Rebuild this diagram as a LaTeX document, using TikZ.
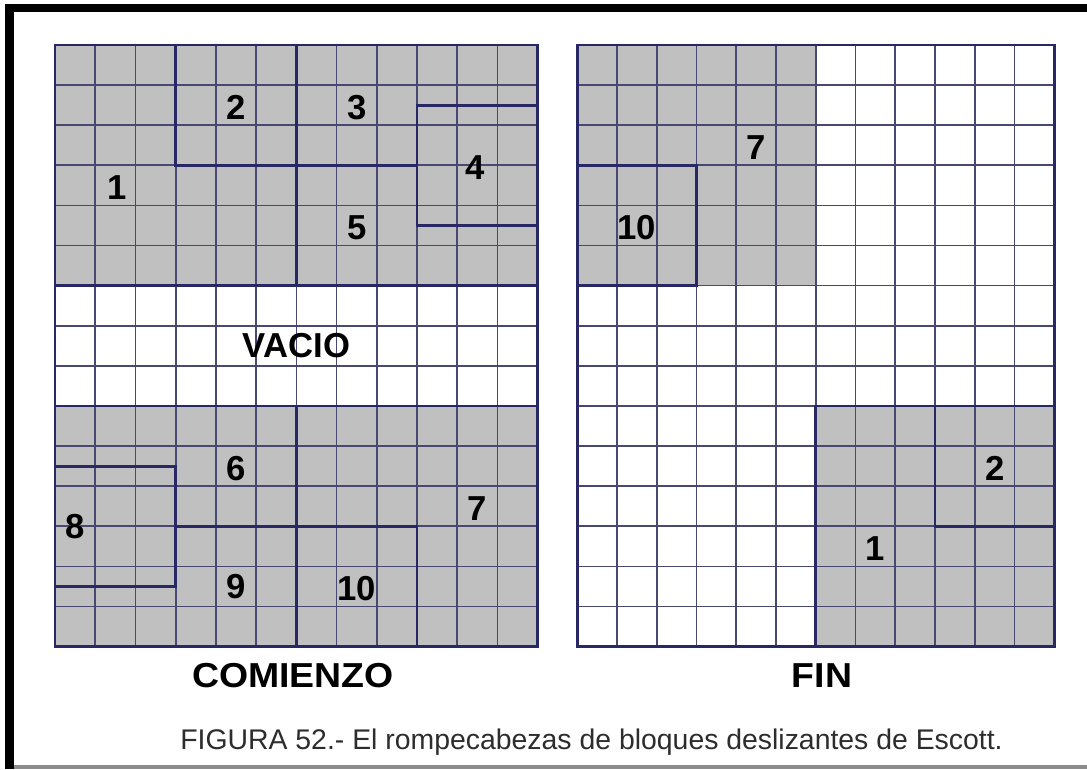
\documentclass[tikz,border=0pt]{standalone}
\usepackage{fontspec}
\setmainfont{Liberation Sans}
\newfontfamily\widefont[FakeStretch=1.08]{Liberation Sans}
\usetikzlibrary{positioning}

\definecolor{gridline}{RGB}{72,72,114}
\definecolor{piece}{RGB}{40,40,100}
\definecolor{block}{RGB}{192,192,192}
\definecolor{captiontext}{RGB}{45,45,45}

\tikzset{
  thin line/.style={draw=gridline, line width=1.25pt},
  piece line/.style={draw=piece, line width=2.1pt, line join=miter},
  num/.style={font=\fontsize{26}{26}\selectfont\bfseries, inner sep=0pt},
  title/.style={font=\fontsize{26}{26}\selectfont\bfseries, inner sep=0pt},
  wide title/.style={font=\widefont\fontsize{26}{26}\selectfont\bfseries, inner sep=0pt},
  caption/.style={font=\fontsize{21.3}{22}\selectfont, text=captiontext, inner sep=0pt, anchor=base}
}

\begin{document}
\begin{tikzpicture}[x=0.75pt, y=-0.75pt]
        \useasboundingbox (0,0) rectangle (1087,769);
        \fill[white] (0,0) rectangle (1087,769);
        % Frame
        \fill[black] (5,4) rectangle (1087,12);
        \fill[black] (5,4) rectangle (14,769);
        \fill[black!45] (14,765) rectangle (1087,769);

        % Start position (COMIENZO)
        \begin{scope}[shift={(55,45)}, x=30.17pt, y=-30.08pt]
            \fill[block] (0,0) rectangle (12,6);
            \fill[block] (0,9) rectangle (12,15);
            \foreach \i in {1,...,11} \draw[thin line] (\i,0) -- (\i,15);
            \foreach \j in {1,...,14} \draw[thin line] (0,\j) -- (12,\j);
            % Pieces
            \draw[piece line] (0,0) rectangle (12,15);
            \draw[piece line] (0,6) -- (12,6);
            \draw[piece line] (0,9) -- (12,9);
            \draw[piece line] (3,0) -- (3,3) -- (9,3);
            \draw[piece line] (6,0) -- (6,6);
            \draw[piece line] (12,1.5) -- (9,1.5) -- (9,4.5) -- (12,4.5);
            \draw[piece line] (6,9) -- (6,15);
            \draw[piece line] (0,10.5) -- (3,10.5) -- (3,13.5) -- (0,13.5);
            \draw[piece line] (3,12) -- (9,12) -- (9,15);
            % Labels
            \node (s1) [num] at (1.55,3.55) {1};
            \node (s2) [num] at (4.5,1.55) {2};
            \node (s3) [num] at (7.5,1.55) {3};
            \node (s4) [num] at (10.45,3.05) {4};
            \node (s5) [num] at (7.5,4.55) {5};
            \node (vacio) [title] at (6,7.5) {VACIO};
            \node (s6) [num] at (4.5,10.55) {6};
            \node (s7) [num] at (10.5,11.55) {7};
            \node (s8) [num] at (0.5,12) {8};
            \node (s9) [num] at (4.5,13.5) {9};
            \node (s10) [num] at (7.5,13.55) {10};
        \end{scope}

        % End position (FIN)
        \begin{scope}[shift={(577.3,45)}, x=29.81pt, y=-30.08pt]
            \fill[block] (0,0) rectangle (6,6);
            \fill[block] (6,9) rectangle (12,15);
            \foreach \i in {1,...,11} \draw[thin line] (\i,0) -- (\i,15);
            \foreach \j in {1,...,14} \draw[thin line] (0,\j) -- (12,\j);
            % Pieces
            \draw[piece line] (0,0) rectangle (12,15);
            \draw[piece line] (0,3) -- (3,3) -- (3,6) -- (0,6);
            \draw[piece line] (6,15) -- (6,9) -- (12,9);
            \draw[piece line] (9,9) -- (9,12) -- (12,12);
            % Labels
            \node (f7) [num] at (4.5,2.55) {7};
            \node (f10) [num] at (1.5,4.55) {10};
            \node (f2) [num] at (10.5,10.55) {2};
            \node (f1) [num] at (7.5,12.55) {1};
        \end{scope}

        % Titles and caption
        \node (comienzo) [wide title] at (293,676) {COMIENZO};
        \node (fin) [wide title] at (822,676) {FIN};
        \node (caption) [caption] at (591.5,749) {FIGURA 52.- El rompecabezas de bloques deslizantes de Escott.};
    \end{tikzpicture}
\end{document}
